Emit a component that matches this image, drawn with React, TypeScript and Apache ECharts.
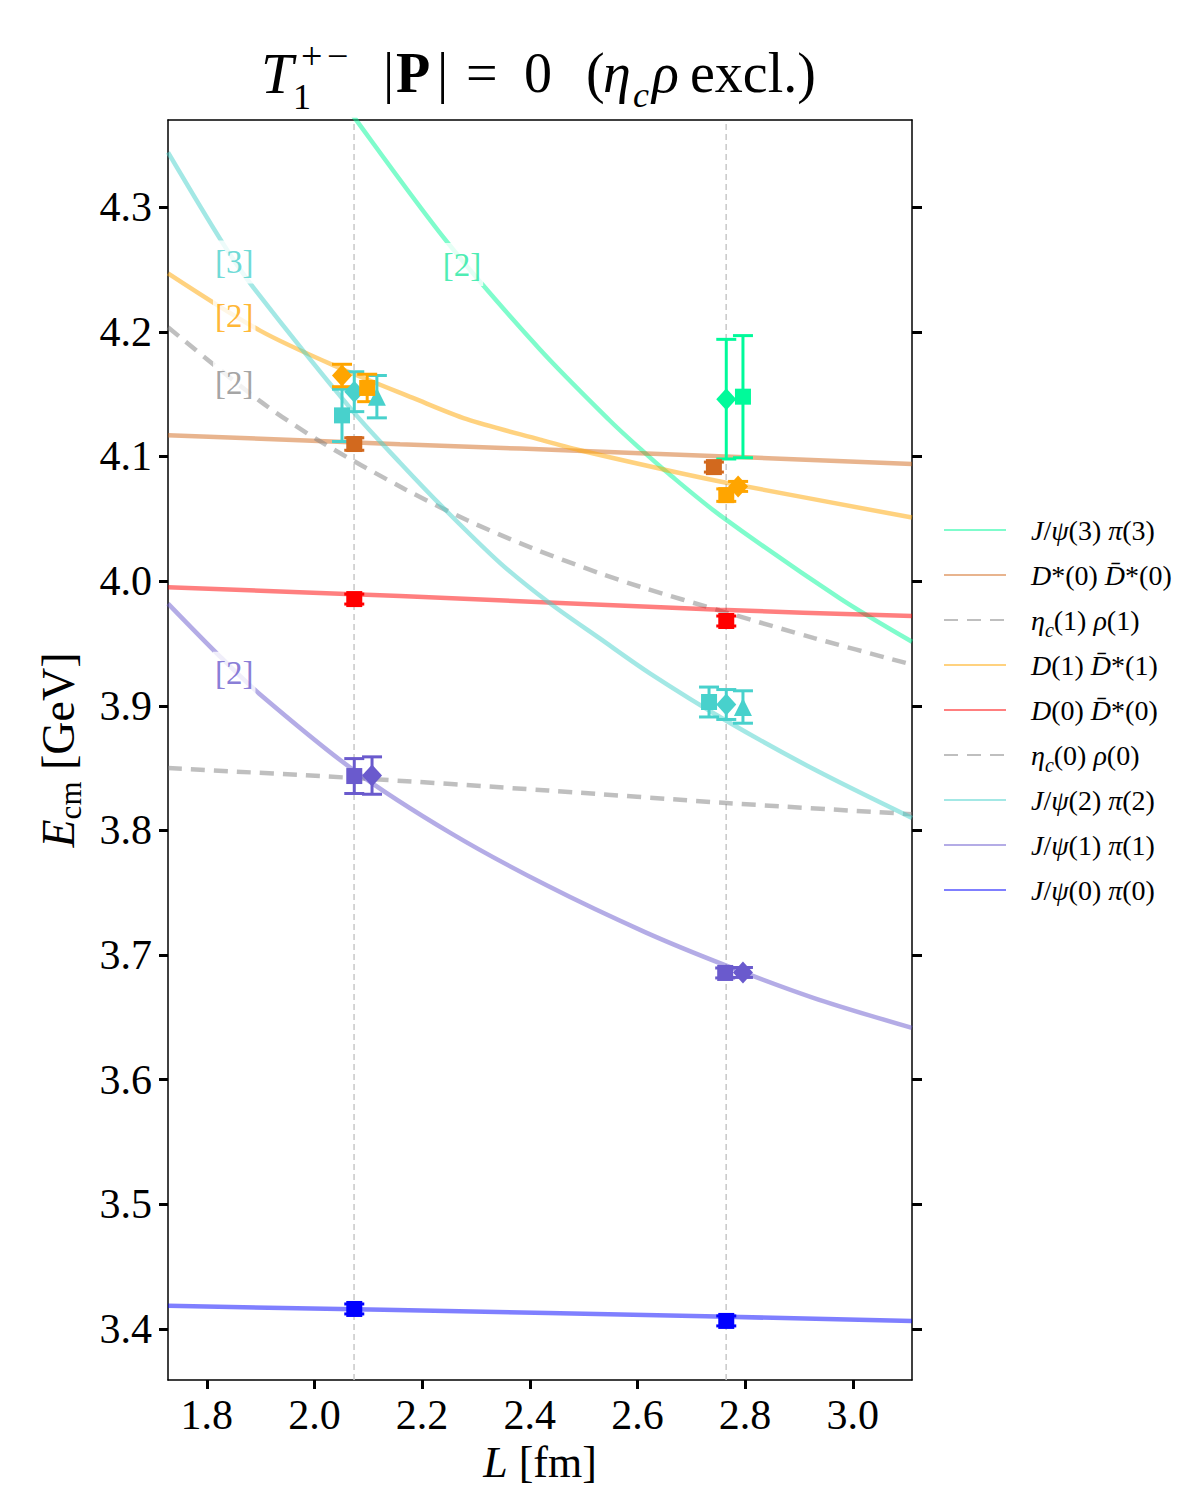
import React, { useEffect, useRef } from "react";
import * as echarts from "echarts";

const FONT = "'Liberation Serif', 'DejaVu Serif', serif";

const xTicks = [1.8, 2.0, 2.2, 2.4, 2.6, 2.8, 3.0];
const yTicks = [3.4, 3.5, 3.6, 3.7, 3.8, 3.9, 4.0, 4.1, 4.2, 4.3];
const xRange = [1.728, 3.11];
const yRange = [3.359, 4.37];
const volumes = [2.0736, 2.7648];

// non-interacting energy curves [L, E]
const curveJpsi3 = [[2.029, 4.4004], [2.072, 4.3733], [2.246, 4.2724], [2.419, 4.1859], [2.549, 4.1287], [2.605, 4.1063], [2.655, 4.0873], [2.753, 4.053], [2.976, 3.9861], [3.11, 3.9513]];
const curveDstDst0 = [[1.728, 4.1171], [2.159, 4.1099], [2.605, 4.1027], [3.11, 4.0939]];
const curveEtacRho1 = [[1.728, 4.2037], [1.899, 4.1444], [2.01, 4.1123], [2.168, 4.0738], [2.283, 4.049], [2.406, 4.0262], [2.53, 4.0063], [2.605, 3.9955], [2.765, 3.9748], [2.928, 3.9543], [3.11, 3.933]];
const curveDDst1 = [[1.728, 4.247], [1.899, 4.201], [2.047, 4.171], [2.183, 4.147], [2.283, 4.13], [2.419, 4.1135], [2.493, 4.105], [2.655, 4.089], [2.765, 4.079], [3.11, 4.051]];
const curveDDst0 = [[1.728, 3.995], [2.159, 3.988], [2.753, 3.977], [3.11, 3.972]];
const curveEtacRho0 = [[1.728, 3.85], [2.074, 3.842], [2.434, 3.832], [2.765, 3.822], [3.11, 3.813]];
const curveJpsi2 = [[1.728, 4.344], [1.83, 4.271], [1.886, 4.236], [2.072, 4.136], [2.159, 4.095], [2.239, 4.059], [2.345, 4.0145], [2.438, 3.982], [2.53, 3.954], [2.623, 3.926], [2.765, 3.888], [2.928, 3.849], [3.11, 3.81]];
const curveJpsi1 = [[1.728, 3.982], [1.821, 3.9411], [1.897, 3.9099], [2.074, 3.848], [2.254, 3.7976], [2.434, 3.7553], [2.614, 3.7184], [2.765, 3.6915], [2.928, 3.6655], [3.11, 3.6415]];
const curveJpsi0 = [[1.728, 3.4185], [2.434, 3.4128], [3.11, 3.4064]];

// lattice levels [L, E, error]
const cyanSquares = [[2.0512, 4.133, 0.021], [2.733, 3.903, 0.012]];
const cyanDiamonds = [[2.074, 4.152, 0.016], [2.765, 3.901, 0.012]];
const cyanTriangles = [[2.116, 4.148, 0.017], [2.796, 3.899, 0.013]];
const greenDiamonds = [[2.765, 4.146, 0.048]];
const greenSquares = [[2.796, 4.148, 0.049]];
const brownSquares = [[2.074, 4.11, 0.005], [2.742, 4.0915, 0.004]];
const orangeDiamonds = [[2.0512, 4.165, 0.009], [2.787, 4.076, 0.004]];
const orangeSquares = [[2.098, 4.155, 0.011], [2.765, 4.069, 0.005]];
const redSquares = [[2.074, 3.9856, 0.004], [2.765, 3.968, 0.004]];
const purpleSquares = [[2.074, 3.8436, 0.014], [2.763, 3.6856, 0.004]];
const purpleDiamonds = [[2.107, 3.844, 0.015], [2.796, 3.686, 0.004]];
const blueSquares = [[2.074, 3.416, 0.004], [2.765, 3.4064, 0.004]];

// multiplicity tags
const tagTexts = ["[3]", "[2]", "[2]", "[2]", "[2]"];
const tagPositions = [[1.851, 4.256], [1.851, 4.213], [1.851, 4.159], [2.274, 4.254], [1.851, 3.926]];

const legendNames = [
  "J/ψ(3) π(3)",
  "D*(0) D̄*(0)",
  "ηc(1) ρ(1)",
  "D(1) D̄*(1)",
  "D(0) D̄*(0)",
  "ηc(0) ρ(0)",
  "J/ψ(2) π(2)",
  "J/ψ(1) π(1)",
  "J/ψ(0) π(0)",
];

const C = {
  green: "#00FA9A",
  brown: "#D2691E",
  gray: "#808080",
  orange: "#FFA500",
  red: "#FF0000",
  cyan: "#48D1CC",
  purple: "#6A5ACD",
  blue: "#0000FF",
};

const legendRich: Record<string, string> = {
  "J/ψ(3) π(3)": "{i|J}{r|/}{i|ψ}{r|(3) }{i|π}{r|(3)}",
  "D*(0) D̄*(0)": "{i|D}{r|*(0) }{i|D̄}{r|*(0)}",
  "ηc(1) ρ(1)": "{i|η}{sub|c}{r|(1) }{i|ρ}{r|(1)}",
  "D(1) D̄*(1)": "{i|D}{r|(1) }{i|D̄}{r|*(1)}",
  "D(0) D̄*(0)": "{i|D}{r|(0) }{i|D̄}{r|*(0)}",
  "ηc(0) ρ(0)": "{i|η}{sub|c}{r|(0) }{i|ρ}{r|(0)}",
  "J/ψ(2) π(2)": "{i|J}{r|/}{i|ψ}{r|(2) }{i|π}{r|(2)}",
  "J/ψ(1) π(1)": "{i|J}{r|/}{i|ψ}{r|(1) }{i|π}{r|(1)}",
  "J/ψ(0) π(0)": "{i|J}{r|/}{i|ψ}{r|(0) }{i|π}{r|(0)}",
};

function curve(name: string, data: number[][], color: string, dashed = false) {
  return {
    type: "line",
    name,
    data,
    smooth: 0.3,
    symbol: "none",
    showSymbol: false,
    clip: true,
    silent: true,
    z: 2,
    itemStyle: { color, opacity: 0.5 },
    lineStyle: { color, width: 4.5, opacity: 0.5, type: dashed ? [14, 9] : "solid" },
  };
}

function volumeLine(v: number) {
  return {
    type: "line",
    name: "L=" + v,
    data: [[v, yRange[0]], [v, yRange[1]]],
    symbol: "none",
    silent: true,
    z: 1,
    lineStyle: { color: "#c8c8c8", width: 1.5, type: [6, 4] },
  };
}

function errorBars(id: string, data: number[][], color: string) {
  return {
    type: "custom",
    name: id + "-err",
    data,
    silent: true,
    z: 3,
    encode: { x: 0, y: 1 },
    renderItem: (params: any, api: any) => {
      const x = api.value(0);
      const y = api.value(1);
      const e = api.value(2);
      const top = api.coord([x, y + e]);
      const bot = api.coord([x, y - e]);
      const hw = 10;
      const st = { stroke: color, lineWidth: 3 };
      return {
        type: "group",
        children: [
          { type: "line", shape: { x1: top[0], y1: top[1], x2: bot[0], y2: bot[1] }, style: st },
          { type: "line", shape: { x1: top[0] - hw, y1: top[1], x2: top[0] + hw, y2: top[1] }, style: st },
          { type: "line", shape: { x1: bot[0] - hw, y1: bot[1], x2: bot[0] + hw, y2: bot[1] }, style: st },
        ],
      };
    },
  };
}

function markers(id: string, data: number[][], color: string, symbol: string) {
  const size = symbol === "rect" ? 16 : symbol === "diamond" ? [20, 22] : [18, 18];
  return {
    type: "scatter",
    name: id + "-pts",
    data: data.map((d) => [d[0], d[1]]),
    symbol,
    symbolSize: size,
    silent: true,
    z: 4,
    itemStyle: { color, opacity: 1 },
  };
}

function levels(id: string, data: number[][], color: string, symbol: string) {
  return [errorBars(id, data, color), markers(id, data, color, symbol)];
}

const tagColors = [C.cyan, C.orange, "#8c8c8c", "#1EE8A0", C.purple];

function titleGraphics() {
  const base = { fontFamily: FONT, fill: "#000", verticalAlign: "middle", align: "left" };
  const t = (text: string, x: number, y: number, size: number, extra: any = {}) => ({
    type: "text",
    x,
    y,
    silent: true,
    style: { ...base, text, fontSize: size, ...extra },
  });
  return [
    t("T", 261, 73, 58, { fontStyle: "italic" }),
    t("+", 301, 56, 38),
    t("−", 327, 56, 38),
    t("1", 293, 97, 36),
    t("|", 383, 73, 56),
    t("P", 396, 73, 56, { fontWeight: "bold" }),
    t("|", 437, 73, 56),
    t("=", 466, 73, 56),
    t("0", 524, 73, 56),
    t("(", 586, 73, 56),
    t("η", 603, 73, 56, { fontStyle: "italic" }),
    t("c", 633, 95, 36, { fontStyle: "italic" }),
    t("ρ", 652, 73, 56, { fontStyle: "italic" }),
    t("excl.)", 690, 73, 56),
  ];
}

export default function App() {
  const ref = useRef<HTMLDivElement>(null);
  useEffect(() => {
    if (!ref.current) return;
    const chart = echarts.init(ref.current, undefined, { renderer: "svg" });
    const axisLineStyle = { color: "#000", width: 1.5 };
    const tickStyle = { color: "#000", width: 3 };
    const tagSeries = tagTexts.map((txt, i) => ({
      type: "scatter",
      name: "tag" + i,
      data: [tagPositions[i]],
      symbolSize: 1,
      silent: true,
      z: 10,
      itemStyle: { color: "rgba(0,0,0,0)" },
      label: {
        show: true,
        position: "inside",
        formatter: txt,
        color: tagColors[i],
        fontFamily: FONT,
        fontSize: 33,
        backgroundColor: "#ffffff",
        padding: [5, 2],
      },
      labelLayout: { hideOverlap: false },
    }));

    const option: any = {
      animation: false,
      backgroundColor: "#ffffff",
      grid: { left: 168, right: 288, top: 120, bottom: 120, containLabel: false },
      xAxis: [
        {
          type: "value",
          min: xRange[0],
          max: xRange[1],
          position: "bottom",
          name: "{i|L}{r| [fm]}",
          nameLocation: "middle",
          nameGap: 58,
          nameTextStyle: {
            fontFamily: FONT,
            fontSize: 44,
            color: "#000",
            rich: {
              i: { fontFamily: FONT, fontSize: 44, fontStyle: "italic", color: "#000" },
              r: { fontFamily: FONT, fontSize: 44, color: "#000" },
            },
          },
          axisLine: { show: true, onZero: false, lineStyle: axisLineStyle },
          axisTick: { show: true, inside: false, length: 9, lineStyle: tickStyle, customValues: xTicks },
          axisLabel: {
            customValues: xTicks,
            formatter: (v: number) => v.toFixed(1),
            fontFamily: FONT,
            fontSize: 42,
            color: "#000",
            margin: 14,
          },
          splitLine: { show: false },
        },
        {
          type: "value",
          min: xRange[0],
          max: xRange[1],
          position: "top",
          axisLine: { show: true, onZero: false, lineStyle: axisLineStyle },
          axisTick: { show: false },
          axisLabel: { show: false },
          splitLine: { show: false },
        },
      ],
      yAxis: [
        {
          type: "value",
          min: yRange[0],
          max: yRange[1],
          position: "left",
          name: "{i|E}{sub|cm}{r| [GeV]}",
          nameLocation: "middle",
          nameGap: 82,
          nameTextStyle: {
            fontFamily: FONT,
            fontSize: 46,
            color: "#000",
            rich: {
              i: { fontFamily: FONT, fontSize: 46, fontStyle: "italic", color: "#000", lineHeight: 56 },
              sub: { fontFamily: FONT, fontSize: 31, color: "#000", verticalAlign: "bottom", lineHeight: 56 },
              r: { fontFamily: FONT, fontSize: 46, color: "#000", lineHeight: 56 },
            },
          },
          axisLine: { show: true, onZero: false, lineStyle: axisLineStyle },
          axisTick: { show: true, inside: false, length: 9, lineStyle: tickStyle, customValues: yTicks },
          axisLabel: {
            customValues: yTicks,
            formatter: (v: number) => v.toFixed(1),
            fontFamily: FONT,
            fontSize: 42,
            color: "#000",
            margin: 16,
          },
          splitLine: { show: false },
        },
        {
          type: "value",
          min: yRange[0],
          max: yRange[1],
          position: "right",
          axisLine: { show: true, onZero: false, lineStyle: axisLineStyle },
          axisTick: { show: true, inside: false, length: 10, lineStyle: tickStyle, customValues: yTicks },
          axisLabel: { show: false },
          splitLine: { show: false },
        },
      ],
      legend: {
        orient: "vertical",
        left: 938,
        top: 505,
        itemWidth: 62,
        itemHeight: 14,
        itemGap: 5,
        data: legendNames,
        selectedMode: false,
        itemStyle: { opacity: 0, borderWidth: 0 },
        formatter: (n: string) => legendRich[n] || n,
        textStyle: {
          fontFamily: FONT,
          fontSize: 28,
          color: "#000",
          lineHeight: 40,
          padding: [0, 0, 0, 20],
          rich: {
            i: { fontFamily: FONT, fontSize: 28, fontStyle: "italic", color: "#000", lineHeight: 40 },
            r: { fontFamily: FONT, fontSize: 28, color: "#000", lineHeight: 40 },
            sub: { fontFamily: FONT, fontSize: 20, fontStyle: "italic", color: "#000", lineHeight: 40, verticalAlign: "bottom" },
          },
        },
      },
      graphic: titleGraphics(),
      series: [
        ...volumes.map(volumeLine),
        curve(legendNames[0], curveJpsi3, C.green),
        curve(legendNames[1], curveDstDst0, C.brown),
        curve(legendNames[2], curveEtacRho1, C.gray, true),
        curve(legendNames[3], curveDDst1, C.orange),
        curve(legendNames[4], curveDDst0, C.red),
        curve(legendNames[5], curveEtacRho0, C.gray, true),
        curve(legendNames[6], curveJpsi2, C.cyan),
        curve(legendNames[7], curveJpsi1, C.purple),
        curve(legendNames[8], curveJpsi0, C.blue),
        ...levels("cs", cyanSquares, C.cyan, "rect"),
        ...levels("cd", cyanDiamonds, C.cyan, "diamond"),
        ...levels("ct", cyanTriangles, C.cyan, "triangle"),
        ...levels("gd", greenDiamonds, C.green, "diamond"),
        ...levels("gs", greenSquares, C.green, "rect"),
        ...levels("bs", brownSquares, C.brown, "rect"),
        ...levels("od", orangeDiamonds, C.orange, "diamond"),
        ...levels("os", orangeSquares, C.orange, "rect"),
        ...levels("rs", redSquares, C.red, "rect"),
        ...levels("ps", purpleSquares, C.purple, "rect"),
        ...levels("pd", purpleDiamonds, C.purple, "diamond"),
        ...levels("bl", blueSquares, C.blue, "rect"),
        ...tagSeries,
      ],
    };
    chart.setOption(option);
    return () => chart.dispose();
  }, []);
  return (
    <div
      ref={ref}
      style={{ position: "absolute", left: 0, top: 0, width: 1200, height: 1500, background: "#fff" }}
    />
  );
}
